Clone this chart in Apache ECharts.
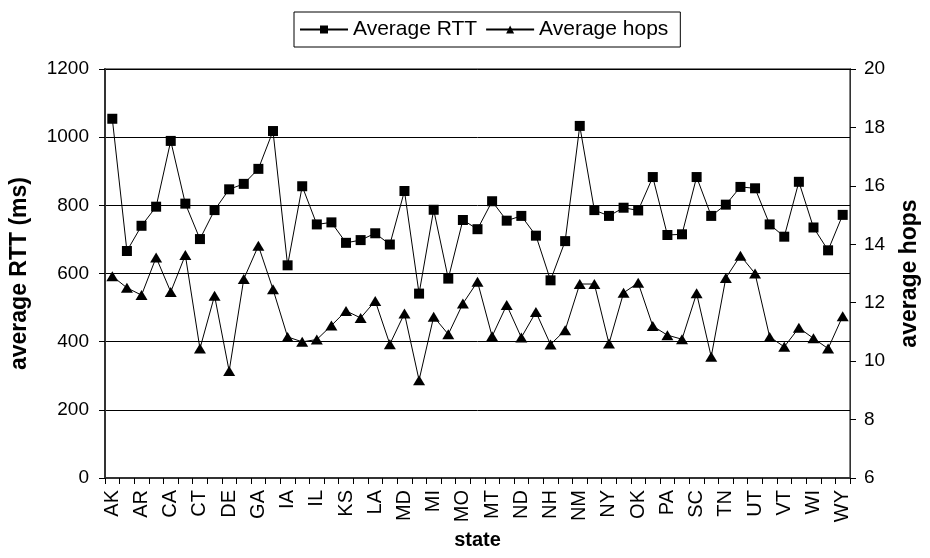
<!DOCTYPE html>
<html>
<head>
<meta charset="utf-8">
<script src="https://cdn.jsdelivr.net/npm/echarts@6/dist/echarts.min.js"></script>
<style>html,body{margin:0;padding:0;background:#fff;}#c{width:930px;height:558px;}</style>
</head>
<body>
<div id="c"></div>
<script>
const states = ['AK','AL','AR','AZ','CA','CO','CT','DC','DE','FL','GA','HI','IA','ID','IL','IN','KS','KY','LA','MA','MD','ME','MI','MN','MO','MS','MT','NC','ND','NE','NH','NJ','NM','NV','NY','OH','OK','OR','PA','RI','SC','SD','TN','TX','UT','VA','VT','WA','WI','WV','WY'];
const avgRTT = [1054,666,740,796,989,805,701,786,847,863,907,1018,624,856,744,750,690,698,718,685,842,541,787,585,757,730,812,755,769,711,580,695,1033,786,769,793,785,883,713,715,883,769,802,854,850,744,708,869,735,668,772];
const avgHops = [12.91,12.51,12.26,13.55,12.37,13.63,10.43,12.24,9.66,12.81,13.95,12.46,10.83,10.66,10.74,11.22,11.72,11.48,12.06,10.58,11.63,9.35,11.52,10.92,11.97,12.72,10.85,11.92,10.81,11.68,10.57,11.06,12.64,12.64,10.60,12.34,12.68,11.20,10.89,10.75,12.32,10.15,12.85,13.61,13.0,10.83,10.49,11.14,10.78,10.43,11.54];
const rttTicks = [0,200,400,600,800,1000,1200];
const hopsTicks = [6,8,10,12,14,16,18,20];

const FONT = 'Liberation Sans';
const chart = echarts.init(document.getElementById('c'), null, {renderer:'canvas'});
chart.setOption({
  animation:false,
  textStyle:{fontFamily:FONT},
  legend:{
    top:12, left:294,
    data:['Average RTT','Average hops'],
    borderColor:'#000', borderWidth:1,
    padding:[7,12,7,5], itemGap:8,
    itemWidth:48, itemHeight:10,
    textStyle:{fontFamily:FONT,fontSize:21,color:'#000'}
  },
  grid:{left:104,right:80,top:69,bottom:80,show:true,borderColor:'#808080',borderWidth:2,backgroundColor:'#fff'},
  xAxis:{
    type:'category', data:states, boundaryGap:true,
    name:'state', nameLocation:'middle', nameGap:52,
    nameTextStyle:{fontFamily:FONT,fontSize:20,fontWeight:'bold',color:'#000'},
    axisLine:{lineStyle:{color:'#333',width:2}},
    axisTick:{show:true,interval:0,length:6,lineStyle:{color:'#000'}},
    axisLabel:{interval:1,rotate:90,fontSize:20,color:'#000',margin:12,fontFamily:FONT},
    splitLine:{show:false}
  },
  yAxis:[{
    type:'value', min:0, max:1200, interval:200,
    name:'average RTT (ms)', nameLocation:'middle', nameGap:74, nameRotate:90,
    nameTextStyle:{fontFamily:FONT,fontSize:23,fontWeight:'bold',color:'#000'},
    axisLine:{show:true,lineStyle:{color:'#333',width:2}},
    axisTick:{show:true,length:6,lineStyle:{color:'#000'}},
    axisLabel:{fontSize:19,color:'#000',margin:16,fontFamily:FONT,formatter:function(v){return String(v);}},
    splitLine:{show:true,lineStyle:{color:'#000',width:1}}
  },{
    type:'value', min:6, max:20, interval:2, position:'right',
    name:'average hops', nameLocation:'middle', nameGap:48, nameRotate:90,
    nameTextStyle:{fontFamily:FONT,fontSize:23,fontWeight:'bold',color:'#000'},
    axisLine:{show:true,lineStyle:{color:'#333',width:1}},
    axisTick:{show:true,length:6,lineStyle:{color:'#000'}},
    axisLabel:{fontSize:19,color:'#000',margin:14,fontFamily:FONT},
    splitLine:{show:false}
  }],
  series:[{
    name:'Average RTT', type:'line', yAxisIndex:0, data:avgRTT,
    symbol:'rect', symbolSize:10, showAllSymbol:true,
    lineStyle:{color:'#000',width:1}, itemStyle:{color:'#000'}
  },{
    name:'Average hops', type:'line', yAxisIndex:1, data:avgHops,
    symbol:'triangle', symbolSize:[12,10], showAllSymbol:true,
    lineStyle:{color:'#000',width:1}, itemStyle:{color:'#000'}
  }]
});
</script>
</body>
</html>
